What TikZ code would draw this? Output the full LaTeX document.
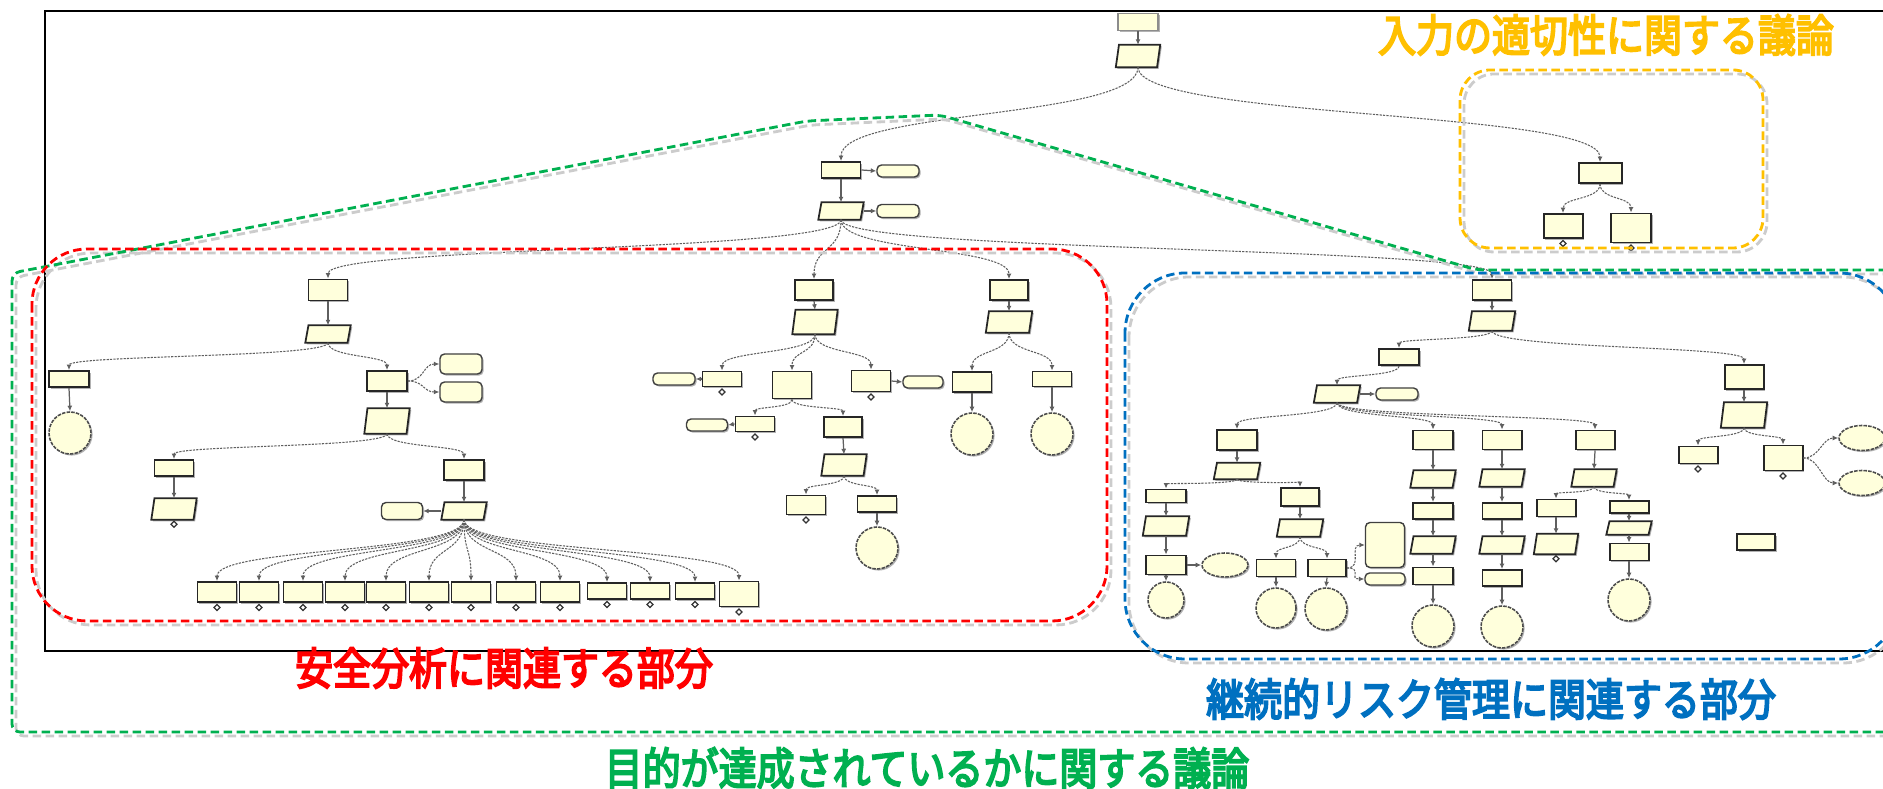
\documentclass[tikz,border=0pt]{standalone}
\usepackage{fontspec}
\newfontfamily\jp{Noto Sans CJK JP}[FakeBold=4.6]
\usetikzlibrary{shapes.geometric,shadows,arrows.meta,calc}
\definecolor{gsn}{RGB}{255,255,220}
\definecolor{cgreen}{RGB}{0,176,80}
\definecolor{cred}{RGB}{255,0,0}
\definecolor{cblue}{RGB}{0,112,192}
\definecolor{corange}{RGB}{255,192,0}
\definecolor{edgec}{RGB}{95,95,95}
\tikzset{
  px/.style 2 args={minimum width=#1*0.01cm, minimum height=#2*0.01cm},
  shad/.style={drop shadow={shadow xshift=0.45pt, shadow yshift=-0.45pt, fill=black!30, opacity=1}},
  goal/.style={rectangle, inner sep=0pt, draw=black!85, line width=0.55pt, fill=gsn, shad},
  topgoal/.style={goal, draw=black!45, line width=0.4pt},
  strat/.style={rectangle, inner sep=0pt},
  ctx/.style={rectangle, rounded corners=0.045cm, inner sep=0pt, draw=black!75, line width=0.4pt, fill=gsn, shad},
  evid/.style={circle, inner sep=0pt, draw=black!70, line width=0.45pt, dash pattern=on 0.35mm off 0.12mm, fill=gsn, shad},
  assum/.style={ellipse, inner sep=0pt, draw=black!70, line width=0.45pt, dash pattern=on 0.35mm off 0.12mm, fill=gsn, shad},
  undev/.style={diamond, inner sep=0pt, minimum size=0.065cm, draw=black!80, line width=0.35pt, fill=white},
  sbody/.style={draw=black!85, line width=0.5pt, fill=gsn},
  sshadow/.style={fill=black!30},
  ed/.style={draw=edgec, line width=0.3pt, dash pattern=on 0.22mm off 0.12mm, -{Latex[length=0.55mm,width=0.5mm]}},
  sl/.style={draw=edgec, line width=0.35pt, -{Latex[length=0.55mm,width=0.5mm]}},
  region/.style={line width=0.8pt, dash pattern=on 0.85mm off 0.45mm},
  regshadow/.style={region, draw=black!20},
  big/.style={font=\jp\fontsize{10.8pt}{12pt}\selectfont, inner sep=0pt},
  frameline/.style={draw=black, line width=0.55pt},
}
\newcommand\gnode[5]{\node[goal,px={#4}{#5}] (#1) at (#2,#3) {};}
\newcommand\snode[5]{\node[strat,px={#4}{#5}] (#1) at (#2,#3) {};}
\newcommand\cnode[5]{\node[ctx,px={#4}{#5}] (#1) at (#2,#3) {};}
\newcommand\enode[4]{\node[evid,px={#4}{#4}] (#1) at (#2,#3) {};}
\newcommand\anode[5]{\node[assum,px={#4}{#5}] (#1) at (#2,#3) {};}
\newcommand\unode[1]{\node[undev,anchor=north] (#1-u) at ([yshift=-0.2pt]#1.south) {};}
\newcommand\stratdraw[1]{%
  \fill[sshadow] ([shift={(1.35pt,-0.45pt)}]#1.north west) -- ([shift={(0.45pt,-0.45pt)}]#1.north east) -- ([shift={(-0.45pt,-0.45pt)}]#1.south east) -- ([shift={(0.45pt,-0.45pt)}]#1.south west) -- cycle;
  \filldraw[sbody] ([xshift=0.9pt]#1.north west) -- (#1.north east) -- ([xshift=-0.9pt]#1.south east) -- (#1.south west) -- cycle;}
\newcommand\cedge[3][0.55]{\draw[ed] let \p1=(#2.south), \p2=(#3.north), \n1={(\y1-\y2)*#1} in (\p1) .. controls +(0pt,-\n1) and +(0pt,\n1) .. (\p2);}
\newcommand\vedge[2]{\draw[sl] (#1.south) -- (#2.north);}
\newcommand\sedge[2]{\draw[ed] (#1.east) .. controls +(16,0) and +(-16,0) .. (#2.west);}
\newcommand\tall[1]{\scalebox{1}[1.16]{#1}}
\begin{document}
\begin{tikzpicture}[x=0.01cm, y=-0.01cm]
\useasboundingbox (0,0) rectangle (1883,789);
\fill[white] (0,0) rectangle (1883,789);
% frame
\draw[frameline] (1900,11) -- (45,11) -- (45,651) -- (1900,651);

% ---------- top ----------
\node[topgoal,px={40}{17}] (T1) at (1138,22) {};
\snode{T2}{1138}{56}{43}{21}
\gnode{T3}{841}{170}{39}{16}
\cnode{T3c}{898}{171}{42}{12}
\snode{S0}{841}{211}{44}{16}
\cnode{S0c}{898}{211}{42}{13}
% ---------- orange ----------
\gnode{O1}{1600}{173}{43}{20}
\gnode{O2}{1563}{226}{39}{24}
\gnode{O3}{1631}{228}{40}{29}
% ---------- left (red) ----------
\gnode{L1}{328}{290}{39}{21}
\snode{L2}{328}{334}{44}{16}
\gnode{L3}{69}{379}{40}{16}
\enode{L3e}{70}{433}{42}
\gnode{L4}{387}{381}{40}{20}
\cnode{L4c1}{461}{364}{42}{20}
\cnode{L4c2}{461}{392}{42}{20}
\snode{L5}{387}{421}{44}{24}
\gnode{L6}{174}{468}{39}{16}
\snode{L6s}{174}{509}{44}{20}
\gnode{L7}{464}{470}{40}{20}
\snode{L7s}{464}{511}{44}{16}
\cnode{L7c}{402}{511}{41}{17}
\foreach \i/\x/\y/\h in {1/217/592/20, 2/259/592/20, 3/303/592/20, 4/345/592/20, 5/386/592/20, 6/429/592/20, 7/471/592/20, 8/516/592/20, 9/560/592/20, 10/607/591/16, 11/650/591/16, 12/695/591/16, 13/739/594/25}{\gnode{R\i}{\x}{\y}{39}{\h}}
% ---------- middle ----------
\gnode{M1}{814}{290}{38}{20}
\snode{M2}{815}{322}{44}{23}
\gnode{M3}{722}{379}{39}{15}
\cnode{M3c}{674}{379}{42}{12}
\gnode{M4}{792}{385}{39}{27}
\gnode{M5}{871}{381}{39}{21}
\cnode{M5c}{923}{382}{40}{12}
\gnode{M6}{755}{424}{39}{15}
\cnode{M6c}{707}{425}{41}{12}
\gnode{M7}{843}{427}{38}{20}
\snode{M8}{844}{465}{44}{20}
\gnode{M9}{806}{505}{39}{19}
\gnode{M10}{877}{504}{39}{16}
\enode{M10e}{877}{548}{42}
\gnode{M11}{1009}{290}{38}{20}
\snode{M12}{1009}{322}{45}{20}
\gnode{M13}{972}{382}{39}{20}
\enode{M13e}{972}{434}{42}
\gnode{M14}{1052}{379}{39}{15}
\enode{M14e}{1052}{434}{42}
% ---------- blue ----------
\gnode{B1}{1492}{290}{39}{20}
\snode{B2}{1492}{321}{45}{18}
\gnode{B3}{1399}{357}{40}{16}
\snode{B4}{1337}{394}{45}{16}
\cnode{B4c}{1397}{394}{42}{12}
\gnode{B5}{1237}{440}{40}{20}
\snode{B6}{1237}{471}{45}{15}
\gnode{B7}{1166}{496}{40}{13}
\snode{B8}{1166}{526}{45}{18}
\gnode{B9}{1166}{565}{40}{19}
\anode{B9a}{1225}{565}{46}{24}
\enode{B9e}{1166}{600}{36}
\gnode{B10}{1300}{497}{38}{18}
\snode{B11}{1300}{528}{45}{16}
\gnode{B12}{1276}{568}{39}{17}
\enode{B12e}{1276}{608}{40}
\gnode{B13}{1327}{568}{38}{17}
\enode{B13e}{1326}{609}{42}
\cnode{B13c1}{1385}{545}{39}{45}
\cnode{B13c2}{1385}{579}{40}{12}
\gnode{B14}{1433}{440}{40}{19}
\snode{B15}{1433}{479}{44}{16}
\gnode{B16}{1433}{511}{40}{16}
\snode{B17}{1433}{545}{44}{16}
\gnode{B18}{1433}{576}{40}{17}
\enode{B18e}{1433}{626}{42}
\gnode{B19}{1502}{440}{39}{19}
\snode{B20}{1502}{478}{44}{16}
\gnode{B21}{1502}{511}{39}{16}
\snode{B22}{1502}{545}{44}{16}
\gnode{B23}{1502}{578}{39}{16}
\enode{B23e}{1502}{627}{42}
\gnode{B24}{1595}{440}{39}{19}
\snode{B25}{1594}{478}{44}{16}
\gnode{B26}{1556}{508}{39}{17}
\snode{B27}{1556}{544}{43}{19}
\gnode{B28}{1629}{507}{39}{12}
\snode{B29}{1629}{528}{44}{12}
\gnode{B30}{1629}{552}{39}{17}
\enode{B30e}{1629}{600}{42}
\gnode{B31}{1744}{377}{39}{24}
\snode{B32}{1744}{415}{45}{24}
\gnode{B33}{1698}{455}{39}{17}
\gnode{B34}{1783}{458}{39}{25}
\anode{B34a1}{1862}{438}{46}{25}
\anode{B34a2}{1862}{483}{46}{25}
\gnode{B35}{1756}{542}{38}{16}

% strategies (parallelograms)
\foreach \s in {T2,S0,L2,L5,L6s,L7s,M2,M8,M12,B2,B4,B6,B8,B11,B15,B17,B20,B22,B25,B27,B29,B32}{\stratdraw{\s}}

% ---------- edges: straight ----------
\vedge{T1}{T2} \vedge{T3}{S0}
\vedge{L1}{L2} \vedge{L3}{L3e} \vedge{L4}{L5} \vedge{L6}{L6s} \vedge{L7}{L7s}
\vedge{M1}{M2} \vedge{M7}{M8} \vedge{M10}{M10e} \vedge{M11}{M12} \vedge{M13}{M13e} \vedge{M14}{M14e}
\vedge{B1}{B2} \vedge{B5}{B6} \vedge{B7}{B8} \vedge{B8}{B9} \vedge{B9}{B9e}
\vedge{B10}{B11} \vedge{B12}{B12e} \vedge{B13}{B13e}
\vedge{B14}{B15} \vedge{B15}{B16} \vedge{B16}{B17} \vedge{B17}{B18} \vedge{B18}{B18e}
\vedge{B19}{B20} \vedge{B20}{B21} \vedge{B21}{B22} \vedge{B22}{B23} \vedge{B23}{B23e}
\vedge{B24}{B25} \vedge{B26}{B27} \vedge{B28}{B29} \vedge{B29}{B30} \vedge{B30}{B30e}
\vedge{B31}{B32}
% context links
\draw[sl] (T3.east) -- (T3c.west);
\draw[sl] (S0.east) -- (S0c.west);
\draw[sl] (M3.west) -- (M3c.east);
\draw[sl] (M5.east) -- (M5c.west);
\draw[sl] (M6.west) -- (M6c.east);
\draw[sl] (L7s.west) -- (L7c.east);
\draw[sl] (B4.east) -- (B4c.west);
\draw[sl] (B9.east) -- (B9a.west);
% ---------- edges: curved ----------
\cedge{T2}{T3} \cedge{T2}{O1} \cedge{O1}{O2} \cedge{O1}{O3}
\cedge{S0}{L1} \cedge{S0}{M1} \cedge{S0}{M11} \cedge{S0}{B1}
\cedge{L2}{L3} \cedge{L2}{L4} \cedge{L5}{L6} \cedge{L5}{L7}
\foreach \i in {1,...,13}{\cedge{L7s}{R\i}}
\cedge{M2}{M3} \cedge{M2}{M4} \cedge{M2}{M5} \cedge{M4}{M6} \cedge{M4}{M7}
\cedge{M8}{M9} \cedge{M8}{M10} \cedge{M12}{M13} \cedge{M12}{M14}
\cedge{B2}{B3} \cedge{B2}{B31} \cedge{B3}{B4}
\cedge{B4}{B5} \cedge{B4}{B14} \cedge{B4}{B19} \cedge{B4}{B24}
\cedge{B6}{B7} \cedge{B6}{B10} \cedge{B11}{B12} \cedge{B11}{B13}
\cedge{B25}{B26} \cedge{B25}{B28} \cedge{B32}{B33} \cedge{B32}{B34}
\sedge{L4}{L4c1} \sedge{L4}{L4c2}
\sedge{B13}{B13c1} \sedge{B13}{B13c2}
\sedge{B34}{B34a1} \sedge{B34}{B34a2}

% undeveloped marks
\foreach \n in {O2,O3,L6s,M3,M5,M6,M9,B27,B33,B34}{\unode{\n}}
\foreach \i in {1,...,13}{\unode{R\i}}

% ---------- regions ----------
\draw[regshadow, rounded corners=0.08cm] (1904,274) -- (1481,274) -- (944,119) -- (811,125) -- (16,277) -- (16,736) -- (1904,736);
\draw[regshadow, rounded corners=0.3cm] (1464,74) rectangle (1767,252);
\draw[regshadow, rounded corners=0.55cm] (36,253) rectangle (1111,625);
\draw[regshadow, rounded corners=0.6cm] (1129,277) rectangle (1903,663);
\draw[region, draw=cgreen, rounded corners=0.08cm] (1900,270) -- (1477,270) -- (940,115) -- (807,121) -- (12,273) -- (12,732) -- (1900,732);
\draw[region, draw=corange, rounded corners=0.3cm] (1460,70) rectangle (1763,248);
\draw[region, draw=cred, rounded corners=0.55cm] (32,249) rectangle (1107,621);
\draw[region, draw=cblue, rounded corners=0.6cm] (1125,273) rectangle (1899,659);

% ---------- labels ----------
\node[big, text=corange] (lblin) at (1606,35) {\tall{入力の適切性に関する議論}};
\node[big, text=cred] (lblsa) at (504,668) {\tall{安全分析に関連する部分}};
\node[big, text=cblue] (lblrm) at (1491,699) {\tall{継続的リスク管理に関連する部分}};
\node[big, text=cgreen] (lblgo) at (927,768) {\tall{目的が達成されているかに関する議論}};
\end{tikzpicture}
\end{document}
